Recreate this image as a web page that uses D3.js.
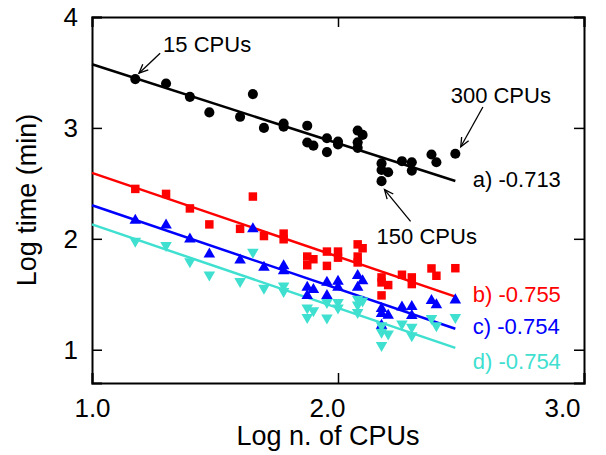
<!DOCTYPE html>
<html>
<head>
<meta charset="utf-8">
<script src="https://cdn.jsdelivr.net/npm/d3@7"></script>
<style>
  body { margin: 0; background: #fff; }
  text { font-family: "Liberation Sans", Arial, sans-serif; }
</style>
</head>
<body>
<div id="chart"></div>
<script>
// log10 of number of CPUs for each run
var xA = [1.176, 1.301, 1.398, 1.477, 1.602, 1.654, 1.699, 1.779, 1.779, 1.875, 1.875, 1.90, 1.955, 1.955,
  2.0, 2.0, 2.08, 2.10, 2.08, 2.08, 2.177, 2.177, 2.204, 2.177, 2.26, 2.30, 2.30, 2.38, 2.40, 2.477];
var yA = [3.44, 3.40, 3.28, 3.14, 3.10, 3.305, 3.00, 3.04, 3.01, 3.02, 2.868, 2.84, 2.907, 2.782,
  2.877, 2.85, 2.976, 2.937, 2.87, 2.82, 2.68, 2.62, 2.60, 2.52, 2.70, 2.69, 2.615, 2.76, 2.69, 2.767];

var xB = [1.176, 1.301, 1.398, 1.477, 1.602, 1.654, 1.699, 1.779, 1.779, 1.875, 1.875, 1.90, 1.955, 1.955,
  2.0, 2.0, 2.08, 2.10, 2.08, 2.08, 2.177, 2.177, 2.204, 2.177, 2.26, 2.30, 2.30, 2.38, 2.40, 2.477];
var yB = [2.45, 2.405, 2.274, 2.13, 2.09, 2.381, 2.025, 2.047, 1.996, 1.84, 1.762, 1.816, 1.885, 1.756,
  1.885, 1.83, 1.95, 1.915, 1.84, 1.787, 1.652, 1.607, 1.583, 1.49, 1.676, 1.652, 1.592, 1.733, 1.667, 1.735];

var xC = [1.176, 1.301, 1.398, 1.477, 1.602, 1.654, 1.699, 1.779, 1.779, 1.875, 1.875, 1.90, 1.955, 1.955,
  2.0, 2.0, 2.08, 2.10, 2.08, 2.177, 2.177, 2.204, 2.177, 2.26, 2.30, 2.30, 2.38, 2.40, 2.477];
var yC = [2.166, 2.124, 1.996, 1.861, 1.807, 2.09, 1.742, 1.756, 1.711, 1.562, 1.487, 1.541, 1.607, 1.487,
  1.616, 1.562, 1.667, 1.62, 1.562, 1.37, 1.325, 1.31, 1.218, 1.383, 1.388, 1.308, 1.442, 1.404, 1.448];

var xD = [1.176, 1.301, 1.398, 1.477, 1.602, 1.654, 1.699, 1.779, 1.779, 1.875, 1.875, 1.90, 1.955, 1.955,
  2.0, 2.0, 2.08, 2.10, 2.08, 2.08, 2.177, 2.177, 2.204, 2.177, 2.26, 2.30, 2.30, 2.38, 2.40, 2.477];
var yD = [1.98, 1.942, 1.795, 1.676, 1.616, 1.88, 1.556, 1.577, 1.527, 1.377, 1.293, 1.353, 1.428, 1.287,
  1.428, 1.377, 1.457, 1.44, 1.404, 1.338, 1.218, 1.159, 1.143, 1.04, 1.233, 1.204, 1.128, 1.284, 1.218, 1.293];

// fitted lines: intercept at x = 1 and slope
var fitNames = ["a", "b", "c", "d"];
var fitIntercepts = [3.574, 2.594, 2.303, 2.13];
var fitSlopes = [-0.713, -0.755, -0.754, -0.754];
var fitX = [1.0, 2.477];

var xTicks = [1.0, 2.0, 3.0];
var yTicks = [1, 2, 3, 4];

var svgWidth = 606;
var svgHeight = 455;

var margin = { top: 17, right: 22, bottom: 72, left: 92 };
var width = 584 - margin.left;
var height = 383 - margin.top;

var colors = ["#000000", "#ff0000", "#0000ff", "#40e0d0"];
var shapes = ["circle", "square", "up", "down"];

var svg = d3.select("#chart")
  .append("svg")
  .attr("width", svgWidth)
  .attr("height", svgHeight);

var chartGroup = svg.append("g")
  .attr("transform", `translate(${margin.left}, ${margin.top})`);

var xScale = d3.scaleLinear().domain([1, 3]).range([0, width]);
var yScale = d3.scaleLinear().domain([0.7, 4]).range([height, 0]);

// axes with inward ticks on all four sides
var bottomAxis = d3.axisBottom(xScale).tickValues(xTicks).tickSize(-10).tickPadding(16)
  .tickFormat(d3.format(".1f"));
var topAxis = d3.axisTop(xScale).tickValues(xTicks).tickSize(-10).tickFormat("");
var leftAxis = d3.axisLeft(yScale).tickValues(yTicks).tickSize(-10).tickPadding(14)
  .tickFormat(d3.format("d"));
var rightAxis = d3.axisRight(yScale).tickValues(yTicks).tickSize(-10).tickFormat("");

var gx = chartGroup.append("g").attr("transform", `translate(0, ${height})`).call(bottomAxis);
chartGroup.append("g").call(topAxis);
var gy = chartGroup.append("g").call(leftAxis);
chartGroup.append("g").attr("transform", `translate(${width}, 0)`).call(rightAxis);

chartGroup.selectAll(".domain").attr("stroke", "black").attr("stroke-width", 2);
chartGroup.selectAll(".tick line").attr("stroke", "black").attr("stroke-width", 1.5);
chartGroup.selectAll(".tick text").attr("font-size", "26px").attr("fill", "black")
  .attr("font-family", "Liberation Sans, Arial, sans-serif");
// the original x labels drift slightly left of their ticks
gx.selectAll(".tick text").attr("dx", d => -(d - 1) * 11);

// axis labels
chartGroup.append("text")
  .attr("transform", `translate(${xScale(2) - 10}, ${height + 62})`)
  .attr("text-anchor", "middle")
  .attr("font-size", "27px")
  .text("Log n. of CPUs");

chartGroup.append("text")
  .attr("transform", `translate(-56, ${yScale(2.35)})rotate(-90)`)
  .attr("text-anchor", "middle")
  .attr("font-size", "27px")
  .text("Log time (min)");

// fitted lines
var line = d3.line().x(d => xScale(d[0])).y(d => yScale(d[1]));
fitNames.forEach(function (n, i) {
  var pts = fitX.map(x => [x, fitIntercepts[i] + fitSlopes[i] * (x - 1)]);
  chartGroup.append("path")
    .attr("d", line(pts))
    .attr("fill", "none")
    .attr("stroke", colors[i])
    .attr("stroke-width", 2.5);
});

// points
var series = [[xA, yA], [xB, yB], [xC, yC], [xD, yD]];
var symCircle = d3.symbol().type(d3.symbolCircle).size(80)();
var symSquare = d3.symbol().type(d3.symbolSquare).size(72)();
var symTri = d3.symbol().type(d3.symbolTriangle).size(58)();

series.forEach(function (s, i) {
  var pts = s[0].map((x, j) => [x, s[1][j]]);
  var shape = shapes[i];
  var path = shape == "circle" ? symCircle : shape == "square" ? symSquare : symTri;
  chartGroup.append("g").selectAll("path")
    .data(pts)
    .enter().append("path")
    .attr("d", path)
    .attr("transform", d => `translate(${xScale(d[0])}, ${yScale(d[1])})` + (shape == "down" ? " rotate(180)" : ""))
    .attr("fill", colors[i]);
});

// slope labels
var slopeLabelY = [2.47, 1.43, 1.144, 0.83];
fitNames.forEach(function (n, i) {
  chartGroup.append("text")
    .attr("x", xScale(2.548))
    .attr("y", yScale(slopeLabelY[i]))
    .attr("font-size", "22px")
    .attr("fill", colors[i])
    .text(`${n}) ${fitSlopes[i].toFixed(3)}`);
});

// annotations with arrows
svg.append("defs").append("marker")
  .attr("id", "head")
  .attr("viewBox", "-10 -5 12 10")
  .attr("refX", 0).attr("refY", 0)
  .attr("markerWidth", 12).attr("markerHeight", 10)
  .attr("markerUnits", "userSpaceOnUse")
  .attr("orient", "auto")
  .append("path")
  .attr("d", "M-9,-4 L0,0 L-9,4")
  .attr("fill", "none")
  .attr("stroke", "black")
  .attr("stroke-width", 1.3);

var noteText = ["15 CPUs", "300 CPUs", "150 CPUs"];
var noteTextPos = [[1.289, 3.68], [2.458, 3.224], [2.157, 1.95]];
var noteArrowFrom = [[1.277, 3.673], [2.589, 3.188], [2.295, 2.157]];
var noteArrowTo = [[1.191, 3.493], [2.499, 2.83], [2.189, 2.444]];

noteText.forEach(function (t, i) {
  chartGroup.append("text")
    .attr("x", xScale(noteTextPos[i][0]))
    .attr("y", yScale(noteTextPos[i][1]))
    .attr("font-size", "22px")
    .text(t);
  chartGroup.append("line")
    .attr("x1", xScale(noteArrowFrom[i][0])).attr("y1", yScale(noteArrowFrom[i][1]))
    .attr("x2", xScale(noteArrowTo[i][0])).attr("y2", yScale(noteArrowTo[i][1]))
    .attr("stroke", "black")
    .attr("stroke-width", 1.3)
    .attr("marker-end", "url(#head)");
});
</script>
</body>
</html>
